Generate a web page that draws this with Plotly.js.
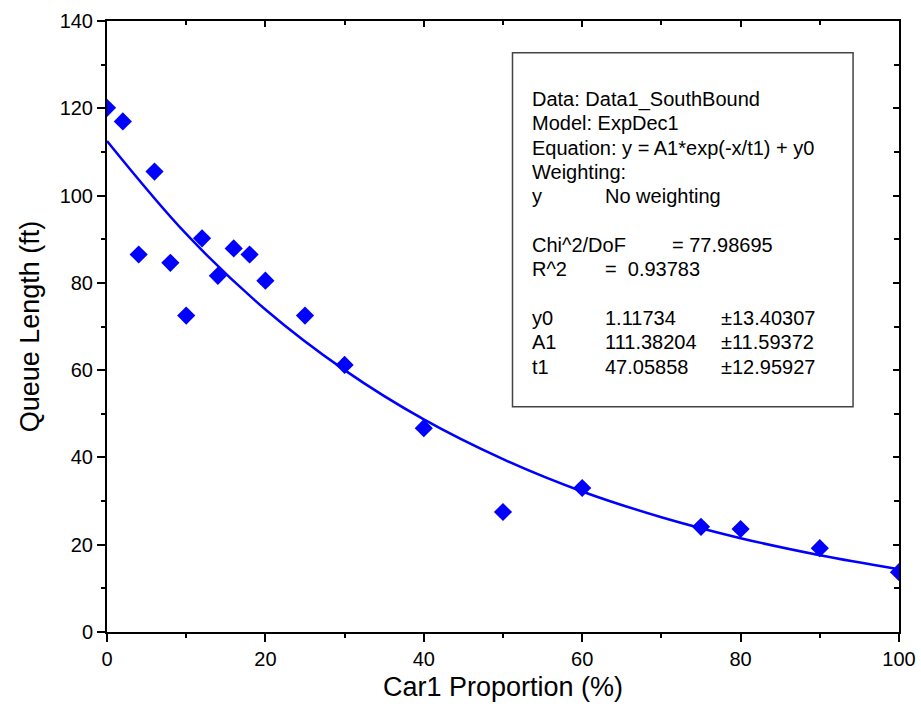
<!DOCTYPE html>
<html>
<head>
<meta charset="utf-8">
<script src="https://cdn.plot.ly/plotly-3.0.1.min.js"></script>
<style>
html,body{margin:0;padding:0;background:#fff;}
#chart{width:921px;height:719px;}
</style>
</head>
<body>
<div id="chart"></div>
<script>
// Measured data (Car1 proportion % vs queue length ft)
const carProportion = [0, 2, 4, 6, 8, 10, 12, 14, 16, 18, 20, 25, 30, 40, 50, 60, 75, 80, 90, 100];
const queueLength  = [120.1, 117.0, 86.5, 105.5, 84.6, 72.5, 90.2, 81.6, 87.9, 86.5, 80.5, 72.5, 61.2, 46.7, 27.5, 33.0, 24.1, 23.6, 19.2, 13.7];

// Fitted curve
const fitX = [0, 10, 20, 30, 40, 50, 60, 70, 80, 90, 100];
const fitY = [112.5, 91.2, 73.9, 60.0, 48.7, 39.6, 32.2, 26.3, 21.5, 17.6, 14.4];

// Fit report text
const reportLines = [
  ["Data: Data1_SouthBound", "", ""],
  ["Model: ExpDec1", "", ""],
  ["Equation: y = A1*exp(-x/t1) + y0", "", ""],
  ["Weighting:", "", ""],
  ["y", "No weighting", ""],
  null,
  ["Chi^2/DoF", "", "= 77.98695"],
  ["R^2", "=  0.93783", ""],
  null,
  ["y0", "1.11734", "±13.40307"],
  ["A1", "111.38204", "±11.59372"],
  ["t1", "47.05858", "±12.95927"]
];

const FONT = "Arial, 'Liberation Sans', sans-serif";

const traces = [
  {
    x: fitX, y: fitY, type: 'scatter', mode: 'lines',
    line: {color: '#0000ff', width: 2.5, shape: 'spline'},
    hoverinfo: 'skip', showlegend: false, xaxis: 'x', yaxis: 'y'
  },
  {
    x: carProportion, y: queueLength, type: 'scatter', mode: 'markers',
    marker: {symbol: 'diamond', size: 14, color: '#0000ff'},
    showlegend: false, xaxis: 'x', yaxis: 'y'
  },
  {x: [], y: [], type: 'scatter', xaxis: 'x2', yaxis: 'y2', showlegend: false, hoverinfo: 'skip'}
];

// build annotation texts (positions in data units)
const annotations = [];
const rowTop = 122.1, rowStep = 5.57;
const colX = [53.4, 62.6, 71.1];
reportLines.forEach((row, i) => {
  if (!row) return;
  const y = rowTop - i * rowStep;
  row.forEach((txt, c) => {
    if (!txt) return;
    let x = colX[c];
    if (c === 2 && row[0] !== "Chi^2/DoF") x = 77.3;
    annotations.push({
      xref: 'x', yref: 'y', x: x, y: y, text: txt, showarrow: false,
      xanchor: 'left', yanchor: 'middle',
      font: {family: FONT, size: 20, color: '#000'}
    });
  });
});

const layout = {
  width: 921, height: 719,
  margin: {l: 107, r: 22, t: 21, b: 87, pad: 0},
  paper_bgcolor: '#fff', plot_bgcolor: '#fff',
  showlegend: false,
  font: {family: FONT, color: '#000'},
  xaxis: {
    range: [0, 100], dtick: 20, tick0: 0,
    ticks: 'outside', ticklen: 8, tickwidth: 2, tickcolor: '#000',
    minor: {dtick: 10, ticks: 'outside', ticklen: 4, tickwidth: 2, tickcolor: '#000', showgrid: false},
    showline: true, linewidth: 2, linecolor: '#000',
    showgrid: false, zeroline: false,
    tickfont: {family: FONT, size: 20, color: '#000'},
    title: {text: 'Car1 Proportion (%)', font: {family: FONT, size: 27, color: '#000'}, standoff: 8}
  },
  yaxis: {
    range: [0, 140], dtick: 20, tick0: 0,
    ticks: 'outside', ticklen: 8, tickwidth: 2, tickcolor: '#000',
    minor: {dtick: 10, ticks: 'outside', ticklen: 4, tickwidth: 2, tickcolor: '#000', showgrid: false},
    showline: true, linewidth: 2, linecolor: '#000',
    showgrid: false, zeroline: false,
    tickfont: {family: FONT, size: 20, color: '#000'},
    title: {text: 'Queue Length (ft)', font: {family: FONT, size: 27, color: '#000'}, standoff: 12}
  },
  xaxis2: {
    overlaying: 'x', side: 'top', range: [0, 100], dtick: 20, tick0: 0,
    ticks: 'inside', ticklen: 6, tickwidth: 2, tickcolor: '#000',
    minor: {dtick: 10, ticks: 'inside', ticklen: 4, tickwidth: 2, tickcolor: '#000', showgrid: false},
    showticklabels: false, showline: true, linewidth: 2, linecolor: '#000',
    showgrid: false, zeroline: false
  },
  yaxis2: {
    overlaying: 'y', side: 'right', anchor: 'x', range: [0, 140], dtick: 20, tick0: 0,
    ticks: 'inside', ticklen: 6, tickwidth: 2, tickcolor: '#000',
    minor: {dtick: 10, ticks: 'inside', ticklen: 5, tickwidth: 2, tickcolor: '#000', showgrid: false},
    showticklabels: false, showline: true, linewidth: 2, linecolor: '#000',
    showgrid: false, zeroline: false
  },
  shapes: [{
    type: 'rect', xref: 'x', yref: 'y', x0: 51.2, x1: 94.2, y0: 51.6, y1: 132.7,
    line: {color: '#444', width: 1.5}, fillcolor: 'rgba(0,0,0,0)', layer: 'above'
  }],
  annotations: annotations
};

Plotly.newPlot('chart', traces, layout, {displayModeBar: false, staticPlot: true});
</script>
</body>
</html>
